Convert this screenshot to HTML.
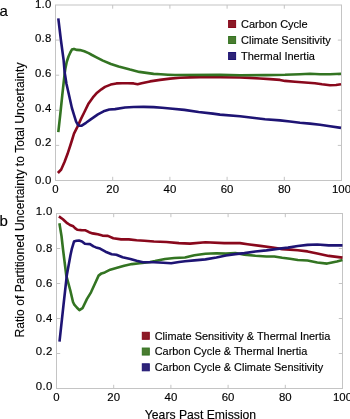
<!DOCTYPE html>
<html><head><meta charset="utf-8"><style>
html,body{margin:0;padding:0;background:#fff;width:350px;height:419px;overflow:hidden}
svg{display:block;will-change:transform}
text{font-family:"Liberation Sans", sans-serif}
</style></head><body>
<svg width="350" height="419" viewBox="0 0 350 419">
<g font-family="'Liberation Sans', sans-serif" font-size="11" fill="#000" stroke="#000" stroke-width="0.15">
<rect x="55.5" y="5.0" width="286.00" height="175.50" fill="none" stroke="#c4c4c4" stroke-width="1"/>
<line x1="112.70" y1="180.5" x2="112.70" y2="176.8" stroke="#c4c4c4" stroke-width="1"/><line x1="112.70" y1="5.0" x2="112.70" y2="8.7" stroke="#c4c4c4" stroke-width="1"/>
<line x1="55.5" y1="145.40" x2="59.2" y2="145.40" stroke="#c4c4c4" stroke-width="1"/><line x1="341.5" y1="145.40" x2="337.8" y2="145.40" stroke="#c4c4c4" stroke-width="1"/>
<line x1="169.90" y1="180.5" x2="169.90" y2="176.8" stroke="#c4c4c4" stroke-width="1"/><line x1="169.90" y1="5.0" x2="169.90" y2="8.7" stroke="#c4c4c4" stroke-width="1"/>
<line x1="55.5" y1="110.30" x2="59.2" y2="110.30" stroke="#c4c4c4" stroke-width="1"/><line x1="341.5" y1="110.30" x2="337.8" y2="110.30" stroke="#c4c4c4" stroke-width="1"/>
<line x1="227.10" y1="180.5" x2="227.10" y2="176.8" stroke="#c4c4c4" stroke-width="1"/><line x1="227.10" y1="5.0" x2="227.10" y2="8.7" stroke="#c4c4c4" stroke-width="1"/>
<line x1="55.5" y1="75.20" x2="59.2" y2="75.20" stroke="#c4c4c4" stroke-width="1"/><line x1="341.5" y1="75.20" x2="337.8" y2="75.20" stroke="#c4c4c4" stroke-width="1"/>
<line x1="284.30" y1="180.5" x2="284.30" y2="176.8" stroke="#c4c4c4" stroke-width="1"/><line x1="284.30" y1="5.0" x2="284.30" y2="8.7" stroke="#c4c4c4" stroke-width="1"/>
<line x1="55.5" y1="40.10" x2="59.2" y2="40.10" stroke="#c4c4c4" stroke-width="1"/><line x1="341.5" y1="40.10" x2="337.8" y2="40.10" stroke="#c4c4c4" stroke-width="1"/>
<text x="55.50" y="192.6" text-anchor="middle" font-size="11.4">0</text>
<text x="51.7" y="183.70" text-anchor="end" font-size="11.4" letter-spacing="0.3">0.0</text>
<text x="112.70" y="192.6" text-anchor="middle" font-size="11.4">20</text>
<text x="51.7" y="146.40" text-anchor="end" font-size="11.4" letter-spacing="0.3">0.2</text>
<text x="169.90" y="192.6" text-anchor="middle" font-size="11.4">40</text>
<text x="51.7" y="111.80" text-anchor="end" font-size="11.4" letter-spacing="0.3">0.4</text>
<text x="227.10" y="192.6" text-anchor="middle" font-size="11.4">60</text>
<text x="51.7" y="77.10" text-anchor="end" font-size="11.4" letter-spacing="0.3">0.6</text>
<text x="284.30" y="192.6" text-anchor="middle" font-size="11.4">80</text>
<text x="51.7" y="42.30" text-anchor="end" font-size="11.4" letter-spacing="0.3">0.8</text>
<text x="341.50" y="192.6" text-anchor="middle" font-size="11.4">100</text>
<text x="51.7" y="7.70" text-anchor="end" font-size="11.4" letter-spacing="0.3">1.0</text>

<rect x="56.5" y="213.5" width="286.00" height="175.00" fill="none" stroke="#c4c4c4" stroke-width="1"/>
<line x1="113.70" y1="388.5" x2="113.70" y2="384.8" stroke="#c4c4c4" stroke-width="1"/><line x1="113.70" y1="213.5" x2="113.70" y2="217.2" stroke="#c4c4c4" stroke-width="1"/>
<line x1="56.5" y1="353.50" x2="60.2" y2="353.50" stroke="#c4c4c4" stroke-width="1"/><line x1="342.5" y1="353.50" x2="338.8" y2="353.50" stroke="#c4c4c4" stroke-width="1"/>
<line x1="170.90" y1="388.5" x2="170.90" y2="384.8" stroke="#c4c4c4" stroke-width="1"/><line x1="170.90" y1="213.5" x2="170.90" y2="217.2" stroke="#c4c4c4" stroke-width="1"/>
<line x1="56.5" y1="318.50" x2="60.2" y2="318.50" stroke="#c4c4c4" stroke-width="1"/><line x1="342.5" y1="318.50" x2="338.8" y2="318.50" stroke="#c4c4c4" stroke-width="1"/>
<line x1="228.10" y1="388.5" x2="228.10" y2="384.8" stroke="#c4c4c4" stroke-width="1"/><line x1="228.10" y1="213.5" x2="228.10" y2="217.2" stroke="#c4c4c4" stroke-width="1"/>
<line x1="56.5" y1="283.50" x2="60.2" y2="283.50" stroke="#c4c4c4" stroke-width="1"/><line x1="342.5" y1="283.50" x2="338.8" y2="283.50" stroke="#c4c4c4" stroke-width="1"/>
<line x1="285.30" y1="388.5" x2="285.30" y2="384.8" stroke="#c4c4c4" stroke-width="1"/><line x1="285.30" y1="213.5" x2="285.30" y2="217.2" stroke="#c4c4c4" stroke-width="1"/>
<line x1="56.5" y1="248.50" x2="60.2" y2="248.50" stroke="#c4c4c4" stroke-width="1"/><line x1="342.5" y1="248.50" x2="338.8" y2="248.50" stroke="#c4c4c4" stroke-width="1"/>
<text x="56.50" y="401.0" text-anchor="middle" font-size="11.4">0</text>
<text x="52.6" y="390.00" text-anchor="end" font-size="11.4" letter-spacing="0.3">0.0</text>
<text x="113.70" y="401.0" text-anchor="middle" font-size="11.4">20</text>
<text x="52.6" y="355.30" text-anchor="end" font-size="11.4" letter-spacing="0.3">0.2</text>
<text x="170.90" y="401.0" text-anchor="middle" font-size="11.4">40</text>
<text x="52.6" y="321.80" text-anchor="end" font-size="11.4" letter-spacing="0.3">0.4</text>
<text x="228.10" y="401.0" text-anchor="middle" font-size="11.4">60</text>
<text x="52.6" y="287.10" text-anchor="end" font-size="11.4" letter-spacing="0.3">0.6</text>
<text x="285.30" y="401.0" text-anchor="middle" font-size="11.4">80</text>
<text x="52.6" y="251.60" text-anchor="end" font-size="11.4" letter-spacing="0.3">0.8</text>
<text x="342.50" y="401.0" text-anchor="middle" font-size="11.4">100</text>
<text x="52.6" y="215.40" text-anchor="end" font-size="11.4" letter-spacing="0.3">1.0</text>

<text x="-0.5" y="15.6" font-size="15">a</text>
<text x="-0.5" y="225.7" font-size="15">b</text>
<text x="200.5" y="419" font-size="12.2" text-anchor="middle">Years Past Emission</text>
<text transform="translate(23.5,200.0) rotate(-90)" font-size="12.15" text-anchor="middle">Ratio of Partitioned Uncertainty to Total Uncertainty</text>
<rect x="228.6" y="20.5" width="7" height="7" fill="#8c1a26" stroke="#89081c" stroke-width="1"/>
<text x="241.0" y="27.9" font-size="11">Carbon Cycle</text>
<rect x="228.6" y="36.5" width="7" height="7" fill="#4a7c30" stroke="#337422" stroke-width="1"/>
<text x="241.0" y="43.9" font-size="11">Climate Sensitivity</text>
<rect x="228.6" y="52.5" width="7" height="7" fill="#2e2478" stroke="#1e1474" stroke-width="1"/>
<text x="241.0" y="59.9" font-size="11">Thermal Inertia</text>

<rect x="142.3" y="332.3" width="7" height="7" fill="#8c1a26" stroke="#89081c" stroke-width="1"/>
<text x="154.70000000000002" y="339.7" font-size="10.92">Climate Sensitivity &amp; Thermal Inertia</text>
<rect x="142.3" y="348.05" width="7" height="7" fill="#4a7c30" stroke="#337422" stroke-width="1"/>
<text x="154.70000000000002" y="355.45" font-size="10.92">Carbon Cycle &amp; Thermal Inertia</text>
<rect x="142.3" y="363.8" width="7" height="7" fill="#2e2478" stroke="#1e1474" stroke-width="1"/>
<text x="154.70000000000002" y="371.2" font-size="10.92">Carbon Cycle &amp; Climate Sensitivity</text>

</g>
<g fill="none" stroke-width="2.6" stroke-linejoin="round" stroke-linecap="butt">
<polyline points="57.9,173.0 61.2,169.5 64.5,162.0 67.4,154.3 70.3,145.5 72.2,139.5 74.0,133.7 77.4,126.9 80.9,119.1 84.3,112.2 88.6,103.4 92.9,97.4 97.1,92.7 101.4,89.3 105.0,86.9 110.7,84.6 116.4,83.4 122.1,83.2 127.9,83.2 133.6,83.4 137.6,84.2 141.6,83.2 150.0,81.4 160.0,79.9 170.0,78.6 180.0,77.8 190.0,77.4 200.0,77.2 220.0,77.2 240.0,77.5 250.0,77.9 260.0,78.5 270.0,79.1 280.0,79.9 285.0,80.9 295.0,81.8 305.0,82.5 315.0,83.3 322.0,84.3 330.0,85.2 336.0,85.0 341.0,84.3" stroke="#89081c"/>
<polyline points="58.3,132.2 60.3,114.1 62.3,95.0 64.6,74.0 65.3,69.0 66.7,62.0 68.5,56.5 70.3,52.5 71.9,49.6 74.0,48.9 77.0,49.9 80.0,50.1 84.3,51.3 88.6,53.1 92.0,55.0 96.0,57.1 102.9,60.6 110.9,64.0 118.6,66.5 124.3,68.0 130.0,69.6 139.3,71.9 146.4,72.9 153.6,73.9 160.7,74.3 167.9,74.7 175.0,75.0 220.0,74.8 240.0,75.2 265.0,75.1 285.0,74.8 300.0,74.2 310.0,73.8 320.0,74.2 330.0,74.3 341.0,73.8" stroke="#337422"/>
<polyline points="58.3,18.4 60.9,40.0 63.6,60.0 64.6,72.0 66.5,84.0 69.0,95.0 71.9,108.0 74.0,114.9 76.1,121.7 77.8,124.6 79.6,125.8 81.7,125.6 86.0,122.8 91.1,119.1 97.9,114.4 103.6,111.3 109.3,109.5 115.0,109.1 125.0,107.5 133.6,107.0 143.6,106.9 153.6,107.1 162.1,107.7 170.0,108.5 184.3,109.9 198.6,112.0 212.9,113.6 220.0,114.6 240.0,116.3 265.0,119.2 280.0,120.4 290.0,121.5 300.0,122.7 310.0,123.6 320.0,124.8 330.0,126.3 341.0,127.9" stroke="#1e1474"/>
<polyline points="58.9,216.4 62.9,219.3 67.2,223.2 70.0,225.0 73.3,226.3 75.3,228.4 77.3,229.8 81.3,230.1 85.5,230.3 89.1,232.2 92.6,233.4 95.5,233.9 97.8,234.3 102.4,235.6 107.9,235.9 113.3,238.2 121.1,239.4 128.8,239.4 136.6,240.2 144.4,240.7 153.9,241.5 166.4,242.0 179.0,243.1 190.0,243.6 205.4,242.3 224.3,243.1 240.0,243.1 247.6,244.2 260.2,245.9 272.7,247.5 282.2,249.1 290.0,249.6 297.8,250.2 307.5,251.4 317.3,253.5 328.7,255.9 342.5,257.6" stroke="#89081c"/>
<polyline points="59.4,223.3 61.5,236.0 63.1,250.0 64.6,262.0 66.3,275.7 70.2,290.0 73.0,302.0 74.3,304.6 76.8,307.5 79.4,310.2 82.5,308.2 87.0,298.9 91.0,292.3 94.9,283.8 98.6,275.6 101.5,273.4 104.8,272.4 110.2,269.7 118.0,267.5 124.2,265.7 131.9,264.1 139.7,263.2 144.4,262.6 150.0,262.0 155.0,261.1 160.0,260.0 165.0,259.0 174.3,258.0 185.0,257.5 194.4,255.2 205.4,253.8 216.4,253.3 225.9,253.6 235.3,253.0 244.4,254.6 255.4,255.8 266.4,256.5 274.3,256.5 282.2,257.7 290.0,258.7 297.8,260.0 307.5,260.5 317.3,262.5 327.1,263.6 336.9,261.6 342.5,260.0" stroke="#337422"/>
<polyline points="59.5,341.6 63.5,305.0 66.9,274.7 70.5,255.0 71.7,249.4 74.0,241.6 76.5,240.8 79.0,240.6 82.0,241.4 84.9,243.8 90.0,244.1 93.5,246.4 96.0,247.4 100.0,248.6 105.5,251.7 111.7,254.2 116.4,254.8 122.6,257.3 130.4,258.9 136.6,260.7 142.9,262.3 153.9,262.3 163.3,262.7 171.2,263.2 179.0,262.0 185.0,261.2 194.4,260.4 205.4,259.4 216.4,257.5 225.9,255.5 235.3,254.1 244.4,253.1 255.4,251.5 266.4,250.4 277.5,248.9 288.0,247.6 297.8,246.0 307.5,244.9 317.3,244.5 328.7,245.4 342.5,245.4" stroke="#1e1474"/>
</g>
</svg>
</body></html>
